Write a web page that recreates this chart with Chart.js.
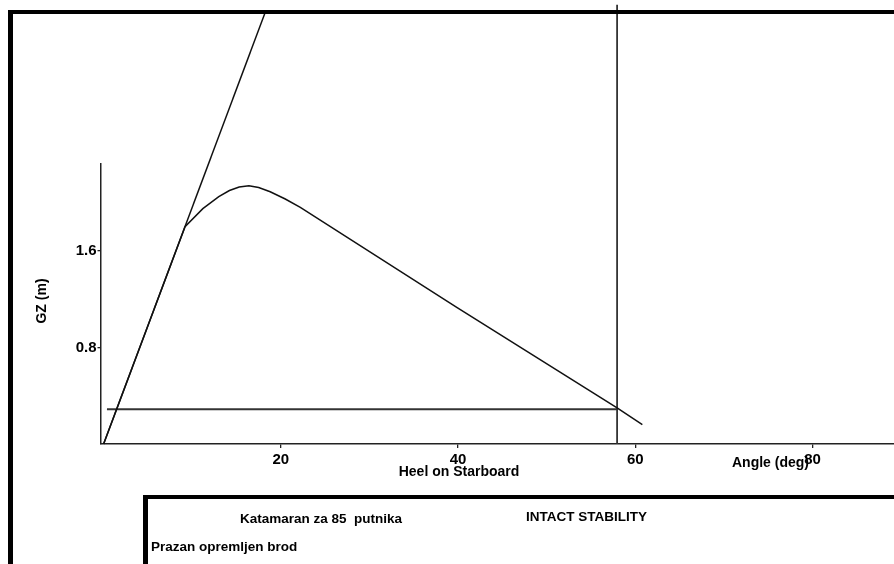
<!DOCTYPE html>
<html>
<head>
<meta charset="utf-8">
<script src="https://cdn.jsdelivr.net/npm/chart.js@4.4.1/dist/chart.umd.min.js"></script>
<style>
  html, body { margin: 0; padding: 0; background: #fff; }
  #wrap { width: 894px; height: 564px; position: relative; }
</style>
</head>
<body>
<div id="wrap"><canvas id="gz-chart"></canvas></div>
<script>
// GZ curve (heel angle in deg, righting lever in m)
const heelAngles = [0, 9.19, 11.2, 13.0, 14.2, 15.3, 16.4, 17.5, 18.8, 20.5, 22.2, 39.9, 57.95, 60.8];
const gzValues = [0, 1.80, 1.95, 2.05, 2.10, 2.13, 2.14, 2.125, 2.09, 2.03, 1.96, 1.13, 0.30, 0.16];

// initial GM tangent
const tangentAngles = [0, 18.2];
const tangentValues = [0, 3.57];

// heeling arm line and limit angle
const heelArmAngles = [0.38, 57.95];
const heelArmValues = [0.288, 0.288];
const limitAngles = [57.95, 57.95];
const limitValues = [0, 3.64];

const xTicks = [20, 40, 60, 80];
const yTicks = [0.8, 1.6];

const FONT = '"Liberation Sans", Arial, sans-serif';

function toPoints(xs, ys) {
  return xs.map((x, i) => ({ x: x, y: ys[i] }));
}

const textPlugin = {
  id: 'sheetText',
  afterDraw(chart) {
    const ctx = chart.ctx;
    ctx.save();
    ctx.fillStyle = '#000';
    ctx.font = 'bold 14px ' + FONT;
    ctx.textBaseline = 'middle';

    // axis captions
    ctx.save();
    ctx.translate(42, 301);
    ctx.rotate(-Math.PI / 2);
    ctx.textAlign = 'center';
    ctx.fillText('GZ (m)', 0, 0);
    ctx.restore();

    ctx.textAlign = 'center';
    ctx.fillText('Heel on Starboard', 459, 472);
    ctx.textAlign = 'left';
    ctx.fillText('Angle (deg)', 732, 463);

    // sheet frame
    ctx.strokeStyle = '#000';
    ctx.lineWidth = 4;
    ctx.beginPath();
    ctx.moveTo(8, 12);
    ctx.lineTo(894, 12);
    ctx.stroke();
    ctx.lineWidth = 5;
    ctx.beginPath();
    ctx.moveTo(10.5, 10);
    ctx.lineTo(10.5, 564);
    ctx.stroke();

    // title block
    ctx.lineWidth = 4;
    ctx.beginPath();
    ctx.moveTo(143, 497);
    ctx.lineTo(894, 497);
    ctx.stroke();
    ctx.lineWidth = 5;
    ctx.beginPath();
    ctx.moveTo(145.5, 495);
    ctx.lineTo(145.5, 564);
    ctx.stroke();

    ctx.font = 'bold 13.5px ' + FONT;
    ctx.fillText('Katamaran za 85  putnika', 240, 519);
    ctx.fillText('INTACT STABILITY', 526, 517);
    ctx.fillText('Prazan opremljen brod', 151, 547);
    ctx.restore();
  }
};

const lineStyle = {
  pointRadius: 0,
  fill: false,
  tension: 0,
  clip: false
};

new Chart(document.getElementById('gz-chart'), {
  type: 'line',
  data: {
    datasets: [
      Object.assign({ label: 'GZ', data: toPoints(heelAngles, gzValues), borderColor: '#111', borderWidth: 1.5 }, lineStyle),
      Object.assign({ label: 'GM', data: toPoints(tangentAngles, tangentValues), borderColor: '#111', borderWidth: 1.5 }, lineStyle),
      Object.assign({ label: 'Heeling arm', data: toPoints(heelArmAngles, heelArmValues), borderColor: '#333', borderWidth: 1.8 }, lineStyle),
      Object.assign({ label: 'Limit', data: toPoints(limitAngles, limitValues), borderColor: '#333', borderWidth: 1.8 }, lineStyle)
    ]
  },
  options: {
    responsive: true,
    maintainAspectRatio: false,
    animation: false,
    layout: { padding: { top: 164, left: 0, right: 0, bottom: 0 } },
    plugins: {
      legend: { display: false },
      tooltip: { enabled: false }
    },
    scales: {
      x: {
        type: 'linear',
        min: -0.35,
        max: 89.2,
        afterFit: (scale) => { scale.height = 120; },
        afterBuildTicks: (scale) => { scale.ticks = xTicks.map(v => ({ value: v })); },
        grid: { drawOnChartArea: false, tickLength: 4, color: '#222', lineWidth: 1.3 },
        border: { display: true, color: '#222', width: 1.5 },
        ticks: { color: '#000', padding: 3, maxRotation: 0, font: { family: FONT, size: 15, weight: 'bold' } }
      },
      y: {
        type: 'linear',
        min: 0,
        max: 2.32,
        afterFit: (scale) => { scale.width = 100.5; },
        afterBuildTicks: (scale) => { scale.ticks = yTicks.map(v => ({ value: v })); },
        grid: { drawOnChartArea: false, tickLength: 3, color: '#222', lineWidth: 1.3 },
        border: { display: true, color: '#222', width: 1.5 },
        ticks: { color: '#000', padding: 1, font: { family: FONT, size: 15, weight: 'bold' } }
      }
    }
  },
  plugins: [textPlugin]
});
</script>
</body>
</html>
